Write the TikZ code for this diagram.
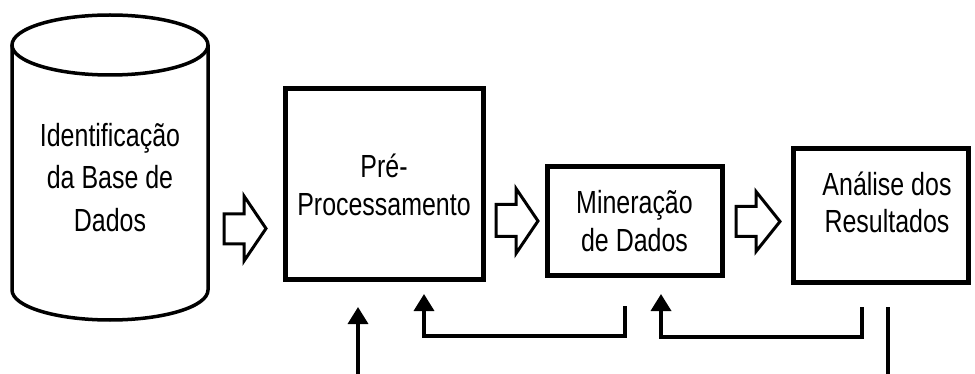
\documentclass[tikz,border=0pt]{standalone}
\usepackage{fontspec}
\setmainfont[FakeStretch=0.78]{Liberation Sans}
\usetikzlibrary{arrows.meta}
\begin{document}
\begin{tikzpicture}[x=1pt,y=-1pt,
  box/.style={draw, line width=5pt, inner sep=0pt},
  txt/.style={align=center, font=\fontsize{32}{38}\selectfont, inner sep=0pt},
  cyl/.style={line width=3.5pt},
  blk/.style={draw, line width=3pt, line join=miter, fill=white},
  conn/.style={line width=3.5pt},
  tip/.style={-{Triangle[width=20pt,length=17pt]}}
]
\useasboundingbox (0,0) rectangle (975,374);

% database cylinder
\draw[cyl] (12,45) -- (12,290) arc[start angle=180,end angle=360,x radius=98pt,y radius=30pt] -- (208,45);
\draw[cyl] (110,45) ellipse [x radius=98pt, y radius=30pt];
\node[txt, font=\fontsize{32}{42.5}\selectfont] (db) at (110,177.5) {Identificação\\da Base de\\Dados};

% boxes
\node[box, minimum width=198pt, minimum height=191pt, txt] (pre) at (384,184.5) {Pré-\\Processamento};
\node[box, minimum width=175pt, minimum height=109pt, txt] (min) at (634.5,221.5) {Mineração\\de Dados};
\node[box, minimum width=175pt, minimum height=134pt] (ana) at (880.5,216) {};
\node[txt, font=\fontsize{32}{37}\selectfont] (anatxt) at (887,202) {Análise dos\\Resultados};

% block arrows
\draw[blk] (224,214) -- (244,214) -- (244,196) -- (266,228.5) -- (244,261) -- (244,244) -- (224,244) -- cycle;
\draw[blk] (496,204.5) -- (516,204.5) -- (516,188.5) -- (538,221) -- (516,253.5) -- (516,236.5) -- (496,236.5) -- cycle;
\draw[blk] (736,206.5) -- (756,206.5) -- (756,191.5) -- (780,221.5) -- (756,251.5) -- (756,236.5) -- (736,236.5) -- cycle;

% bottom connectors
\coordinate (in1) at (358,374);
\coordinate (in1t) at (358,307);
\draw[conn, tip] (in1) -- (in1t);

\coordinate (f1s) at (625,306);
\coordinate (f1a) at (625,336);
\coordinate (f1b) at (424,336);
\coordinate (f1t) at (424,294);
\draw[conn, tip] (f1s) -- (f1a) -- (f1b) -- (f1t);

\coordinate (f2s) at (862,307);
\coordinate (f2a) at (862,337);
\coordinate (f2b) at (661,337);
\coordinate (f2t) at (661,294);
\draw[conn, tip] (f2s) -- (f2a) -- (f2b) -- (f2t);

\coordinate (outs) at (888,307);
\coordinate (oute) at (888,374);
\draw[conn] (outs) -- (oute);
\end{tikzpicture}
\end{document}
